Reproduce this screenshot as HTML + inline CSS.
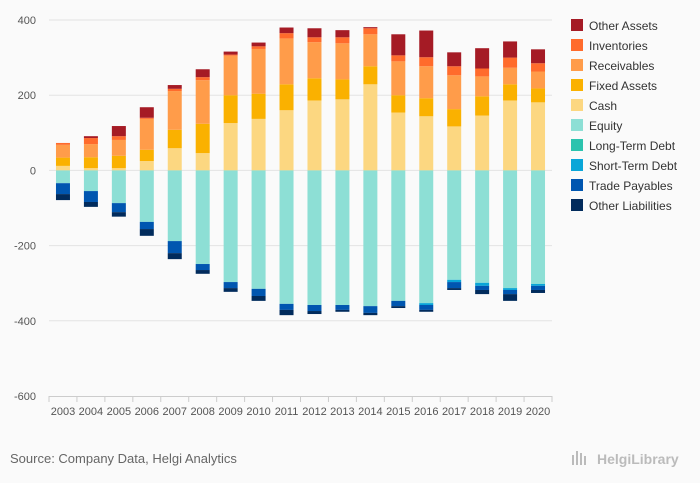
<!DOCTYPE html>
<html><head><meta charset="utf-8"><style>
body{margin:0;background:#fafafa;font-family:"Liberation Sans",sans-serif}
svg{display:block}
</style></head><body>
<svg id="chart" width="700" height="483" xmlns="http://www.w3.org/2000/svg">
<rect width="700" height="483" fill="#fafafa"/>
<g id="grid"></g><g id="bars"></g><g id="axes"></g><g id="legend"></g>
<text x="10" y="463" font-size="13" fill="#666">Source: Company Data, Helgi Analytics</text>
<g>
<rect x="572" y="455" width="2" height="10" fill="#bbb"/><rect x="576" y="451" width="2" height="14" fill="#bbb"/><rect x="580" y="453" width="2" height="12" fill="#bbb"/><rect x="584" y="456" width="2" height="9" fill="#bbb"/>
<text x="597" y="464" font-size="14" font-weight="bold" fill="#bbb">HelgiLibrary</text></g>
</svg>
<script>
const years=[2003,2004,2005,2006,2007,2008,2009,2010,2011,2012,2013,2014,2015,2016,2017,2018,2019,2020];
const cash=[12,6,6,25,59,46,126,137,160,186,189,229,154,144,117,146,186,181];
const fixedAssets=[22,29,33,30,49,78,74,67,69,59,53,48,46,48,46,51,43,37];
const receivables=[34,35,42,82,103,116,105,119,122,96,96,85,90,85,90,53,44,45];
const inventories=[5,16,10,3,6,8,3,7,14,13,16,16,16,24,24,21,27,22];
const otherAssets=[0,5,27,28,10,21,8,10,15,24,19,3,56,71,37,54,43,37];
const equity=[-34,-55,-87,-137,-188,-249,-297,-315,-355,-358,-358,-361,-347,-353,-291,-299,-313,-302];
const longTermDebt=[0,0,0,0,0,0,0,0,0,0,0,0,0,0,0,0,0,0];
const shortTermDebt=[0,0,0,0,0,0,0,0,0,0,0,0,0,5,6,8,5,5];
const tradePayables=[-29,-29,-24,-19,-32,-16,-16,-19,-16,-16,-13,-18,-14,-13,-16,-11,-11,-11];
const otherLiabilities=[-16,-13,-12,-18,-16,-10,-10,-13,-14,-8,-5,-6,-5,-5,-5,-11,-18,-8];
const yTicks=[400,200,0,-200,-400,-600];
const NS="http://www.w3.org/2000/svg";
const X0=49,X1=552,Y0=20,Y1=396,VMAX=400,VMIN=-600;
const band=(X1-X0)/years.length;
function xs(i){return X0+band*i+band/2;}
function ys(v){return Y0+(VMAX-v)*(Y1-Y0)/(VMAX-VMIN);}
function mk(t,a,p){const e=document.createElementNS(NS,t);for(const k in a)e.setAttribute(k,a[k]);p.appendChild(e);return e;}
const grid=document.getElementById('grid');
yTicks.forEach(t=>{
 if(t!==VMIN){const l=mk('line',{x1:X0,x2:X1,y1:ys(t),y2:ys(t),stroke:'#e3e3e3','stroke-width':1},grid);
 
 }
 const tx=mk('text',{x:36,y:ys(t)+4,'font-size':11,fill:'#555','text-anchor':'end'},grid);tx.textContent=t;
 
 
});
const series=[
 ['Other Assets',otherAssets,'#a51b25',1],['Inventories',inventories,'#ff6b2c',1],['Receivables',receivables,'#ff9c4a',1],
 ['Fixed Assets',fixedAssets,'#fab100',1],['Cash',cash,'#fcd781',1],['Equity',equity,'#8ddfd5',-1],
 ['Long-Term Debt',longTermDebt,'#2cc3ae',-1],['Short-Term Debt',shortTermDebt,'#0aa6d8',-1],['Trade Payables',tradePayables,'#0056b0',-1],['Other Liabilities',otherLiabilities,'#012b5c',-1]];
const stackOrderPos=[4,3,2,1,0],stackOrderNeg=[5,6,7,8,9];
const bars=document.getElementById('bars');
years.forEach((y,i)=>{
 let acc=0;
 stackOrderPos.forEach(s=>{const v=Math.abs(series[s][1][i]);const r=mk('rect',{x:xs(i)-7,width:14,y:ys(acc+v),height:ys(acc)-ys(acc+v),fill:series[s][2]},bars);
 
 acc+=v;});
 acc=0;
 stackOrderNeg.forEach(s=>{const v=-Math.abs(series[s][1][i]);const r=mk('rect',{x:xs(i)-7,width:14,y:ys(acc),height:ys(acc+v)-ys(acc),fill:series[s][2]},bars);
 
 acc+=v;});
});
const ax=document.getElementById('axes');
const base=mk('line',{x1:X0,x2:X1,y1:Y1+0.5,y2:Y1+0.5,stroke:'#ccc'},ax);


years.forEach((y,i)=>{
 mk('line',{x1:X0+band*i,x2:X0+band*i,y1:Y1,y2:Y1+6,stroke:'#ccc'},ax);
 const t=mk('text',{x:xs(i),y:415,'font-size':11,fill:'#555','text-anchor':'middle'},ax);t.textContent=y;
 
 
});
mk('line',{x1:X1,x2:X1,y1:Y1,y2:Y1+6,stroke:'#ccc'},ax);
const lg=document.getElementById('legend');
series.forEach((s,k)=>{
 const g=mk('g',{},lg);
 
 
 mk('rect',{x:571,y:19+k*20,width:12,height:12,fill:s[2]},g);
 const t=mk('text',{x:589,y:30+k*20,'font-size':12,fill:'#333'},g);t.textContent=s[0];
});
</script>
</body></html>
